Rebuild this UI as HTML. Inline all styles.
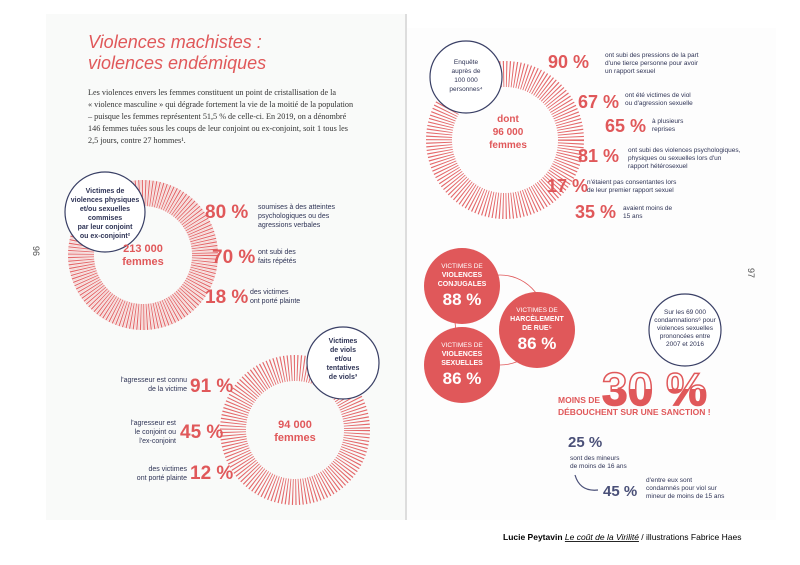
<!DOCTYPE html>
<html><head><meta charset="utf-8"><style>
html,body{margin:0;padding:0;background:#fff}
svg{display:block}
text{font-family:"Liberation Sans",sans-serif}
.s{font-family:"Liberation Serif",serif}
</style></head><body>
<svg width="800" height="565" viewBox="0 0 800 565" xmlns="http://www.w3.org/2000/svg">
<defs><clipPath id="lh"><rect x="590" y="389" width="140" height="30"/></clipPath></defs>
<rect width="800" height="565" fill="#fff"/>
<rect x="46" y="14" width="360" height="506" fill="#f9faf9"/>
<rect x="406" y="28" width="370" height="492" fill="#fdfdfd"/>
<line x1="406" y1="14" x2="406" y2="520" stroke="#ddd" stroke-width="2"/>

<text x="88" y="48" font-size="18" fill="#e0585a" font-style="italic">Violences machistes :</text>
<text x="88" y="69" font-size="18" fill="#e0585a" font-style="italic">violences endémiques</text>
<g class="s" font-size="8.2" fill="#333">
<text x="88" y="95" class="s">Les violences envers les femmes constituent un point de cristallisation de la</text>
<text x="88" y="107" class="s">« violence masculine » qui dégrade fortement la vie de la moitié de la population</text>
<text x="88" y="119" class="s">– puisque les femmes représentent 51,5 % de celle-ci. En 2019, on a dénombré</text>
<text x="88" y="131" class="s">146 femmes tuées sous les coups de leur conjoint ou ex-conjoint, soit 1 tous les</text>
<text x="88" y="143" class="s">2,5 jours, contre 27 hommes¹.</text>
</g>

<circle cx="143" cy="255" r="62" fill="none" stroke="#e4686a" stroke-width="26" stroke-dasharray="1 2"/>
<circle cx="143" cy="255" r="62" fill="none" stroke="#f3c4c4" stroke-width="26" stroke-dasharray="1 2" stroke-dashoffset="-1.5" opacity=".7"/>
<circle cx="105" cy="212" r="40" fill="#fff" stroke="#3a4066" stroke-width="1.2"/>
<g font-size="7" fill="#2f3456" text-anchor="middle" font-weight="bold">
<text x="105" y="193">Victimes de</text><text x="105" y="202">violences physiques</text><text x="105" y="211">et/ou sexuelles</text><text x="105" y="220">commises</text><text x="105" y="229">par leur conjoint</text><text x="105" y="238">ou ex-conjoint²</text></g>
<text x="143" y="252" font-size="11" font-weight="bold" fill="#e0585a" text-anchor="middle">213 000</text>
<text x="143" y="265" font-size="11" font-weight="bold" fill="#e0585a" text-anchor="middle">femmes</text>
<text x="33" y="246" font-size="9" fill="#555" transform="rotate(90 33 246)">96</text>

<g font-weight="bold" fill="#e0585a" font-size="19">
<text x="205" y="218">80 %</text><text x="212" y="263">70 %</text><text x="205" y="303">18 %</text></g>
<g font-size="7" fill="#2f3456">
<text x="258" y="209">soumises à des atteintes</text><text x="258" y="218">psychologiques ou des</text><text x="258" y="227">agressions verbales</text>
<text x="258" y="254">ont subi des</text><text x="258" y="263">faits répétés</text>
<text x="250" y="294">des victimes</text><text x="250" y="303">ont porté plainte</text></g>

<circle cx="295" cy="430" r="62" fill="none" stroke="#e4686a" stroke-width="26" stroke-dasharray="1 2"/>
<circle cx="343" cy="363" r="36" fill="#fff" stroke="#3a4066" stroke-width="1.2"/>
<g font-size="7" fill="#2f3456" text-anchor="middle" font-weight="bold">
<text x="343" y="343">Victimes</text><text x="343" y="352">de viols</text><text x="343" y="361">et/ou</text><text x="343" y="370">tentatives</text><text x="343" y="379">de viols³</text></g>
<text x="295" y="428" font-size="11" font-weight="bold" fill="#e0585a" text-anchor="middle">94 000</text>
<text x="295" y="441" font-size="11" font-weight="bold" fill="#e0585a" text-anchor="middle">femmes</text>
<g font-weight="bold" fill="#e0585a" font-size="19">
<text x="190" y="392">91 %</text><text x="180" y="438">45 %</text><text x="190" y="479">12 %</text></g>
<g font-size="7" fill="#2f3456" text-anchor="end">
<text x="187" y="382">l'agresseur est connu</text><text x="187" y="391">de la victime</text>
<text x="176" y="425">l'agresseur est</text><text x="176" y="434">le conjoint ou</text><text x="176" y="443">l'ex-conjoint</text>
<text x="187" y="471">des victimes</text><text x="187" y="480">ont porté plainte</text></g>

<circle cx="505" cy="140" r="66" fill="none" stroke="#e4686a" stroke-width="26" stroke-dasharray="1 2"/>
<circle cx="466" cy="77" r="36" fill="#fff" stroke="#3a4066" stroke-width="1.2"/>
<g font-size="6.5" fill="#2f3456" text-anchor="middle">
<text x="466" y="64">Enquête</text><text x="466" y="73">auprès de</text><text x="466" y="82">100 000</text><text x="466" y="91">personnes⁴</text></g>
<g font-size="10" font-weight="bold" fill="#e0585a" text-anchor="middle">
<text x="508" y="122">dont</text><text x="508" y="135">96 000</text><text x="508" y="148">femmes</text></g>
<g font-weight="bold" fill="#e0585a" font-size="18">
<text x="548" y="68">90 %</text><text x="578" y="108">67 %</text><text x="605" y="132">65 %</text>
<text x="578" y="162">81 %</text><text x="547" y="192">17 %</text><text x="575" y="218">35 %</text></g>
<g font-size="6.5" fill="#2f3456">
<text x="605" y="57">ont subi des pressions de la part</text><text x="605" y="65">d'une tierce personne pour avoir</text><text x="605" y="73">un rapport sexuel</text>
<text x="625" y="97">ont été victimes de viol</text><text x="625" y="105">ou d'agression sexuelle</text>
<text x="652" y="123">à plusieurs</text><text x="652" y="131">reprises</text>
<text x="628" y="152">ont subi des violences psychologiques,</text><text x="628" y="160">physiques ou sexuelles lors d'un</text><text x="628" y="168">rapport hétérosexuel</text>
<text x="587" y="184">n'étaient pas consentantes lors</text><text x="587" y="192">de leur premier rapport sexuel</text>
<text x="623" y="210">avaient moins de</text><text x="623" y="218">15 ans</text></g>
<text x="748" y="268" font-size="9" fill="#555" transform="rotate(90 748 268)">97</text>

<circle cx="500" cy="320" r="45" fill="none" stroke="#e0585a" stroke-width=".8"/>
<circle cx="462" cy="286" r="38" fill="#e0585a"/>
<circle cx="537" cy="330" r="38" fill="#e0585a"/>
<circle cx="462" cy="365" r="38" fill="#e0585a"/>
<g fill="#fff" text-anchor="middle" font-weight="bold">
<text x="462" y="268" font-size="6.5" font-weight="normal">VICTIMES DE</text><text x="462" y="277" font-size="7">VIOLENCES</text><text x="462" y="286" font-size="7">CONJUGALES</text><text x="462" y="305" font-size="17">88 %</text>
<text x="537" y="312" font-size="6.5" font-weight="normal">VICTIMES DE</text><text x="537" y="321" font-size="7">HARCÈLEMENT</text><text x="537" y="330" font-size="7">DE RUE⁵</text><text x="537" y="349" font-size="17">86 %</text>
<text x="462" y="347" font-size="6.5" font-weight="normal">VICTIMES DE</text><text x="462" y="356" font-size="7">VIOLENCES</text><text x="462" y="365" font-size="7">SEXUELLES</text><text x="462" y="384" font-size="17">86 %</text></g>

<circle cx="685" cy="330" r="36" fill="#fff" stroke="#3a4066" stroke-width="1.2"/>
<g font-size="6.5" fill="#2f3456" text-anchor="middle">
<text x="685" y="314">Sur les 69 000</text><text x="685" y="322">condamnations⁶ pour</text><text x="685" y="330">violences sexuelles</text><text x="685" y="338">prononcées entre</text><text x="685" y="346">2007 et 2016</text></g>
<text x="602" y="405" font-size="46" font-weight="bold" fill="#e0585a" clip-path="url(#lh)">30 %</text>
<text x="602" y="405" font-size="46" font-weight="bold" fill="none" stroke="#e0585a" stroke-width="1.5">30 %</text>
<text x="558" y="403" font-size="8.5" font-weight="bold" fill="#e0585a">MOINS DE</text>
<text x="558" y="415" font-size="8.5" font-weight="bold" fill="#e0585a">DÉBOUCHENT SUR UNE SANCTION !</text>
<text x="568" y="447" font-size="15" font-weight="bold" fill="#4a5078">25 %</text>
<g font-size="6.5" fill="#2f3456"><text x="570" y="460">sont des mineurs</text><text x="570" y="468">de moins de 16 ans</text>
<text x="646" y="482">d'entre eux sont</text><text x="646" y="490">condamnés pour viol sur</text><text x="646" y="498">mineur de moins de 15 ans</text></g>
<text x="603" y="496" font-size="15" font-weight="bold" fill="#4a5078">45 %</text>
<path d="M575 475 Q580 492 598 490" fill="none" stroke="#4a5078" stroke-width="1.2"/>

<text x="503" y="540" font-size="8.5" fill="#000"><tspan font-weight="bold">Lucie Peytavin</tspan>  <tspan font-style="italic" text-decoration="underline">Le coût de la Virilité</tspan>  /  illustrations Fabrice Haes</text>
</svg>
</body></html>
